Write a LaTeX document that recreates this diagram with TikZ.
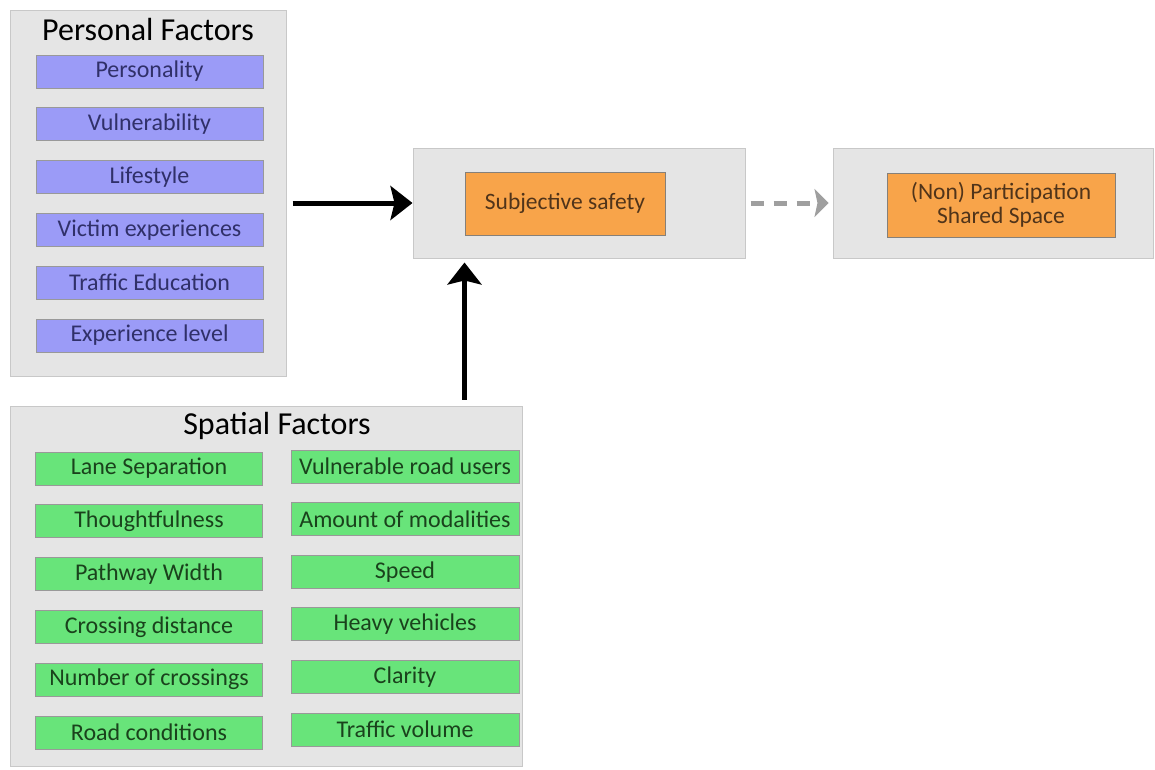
\documentclass[tikz,border=0pt]{standalone}
\usepackage{fontspec}
\setmainfont{Carlito}
\usetikzlibrary{arrows.meta, positioning}
\definecolor{panelgray}{RGB}{229, 229, 229}
\definecolor{panelline}{RGB}{200, 200, 200}
\definecolor{factorblue}{RGB}{155, 155, 247}
\definecolor{factorbluetext}{RGB}{48, 48, 105}
\definecolor{factorgreen}{RGB}{104, 228, 122}
\definecolor{factorgreentext}{RGB}{26, 66, 28}
\definecolor{safetyorange}{RGB}{248, 164, 74}
\definecolor{safetytext}{RGB}{80, 52, 26}

\tikzset{
  panel/.style={draw=panelline, fill=panelgray, line width=1pt, inner sep=0pt},
  factorbox/.style={draw=gray!80, line width=1pt, minimum width=227pt, minimum height=33pt,
    inner sep=0pt, font=\fontsize{24}{26}\selectfont},
  bluebox/.style={factorbox, fill=factorblue, text=factorbluetext},
  greenbox/.style={factorbox, fill=factorgreen, text=factorgreentext},
  orangebox/.style={draw=gray!90!brown, fill=safetyorange, text=safetytext, line width=1pt,
    inner sep=0pt, align=center, font=\fontsize{23.5}{24}\selectfont},
  paneltitle/.style={font=\fontsize{32}{34}\selectfont, text=black},
  mainarrow/.style={line width=5pt, -{Stealth[length=22pt, width=34pt, inset=4pt]}},
  dasharrow/.style={line width=5pt, gray!75, dash pattern=on 13pt off 10pt,
    -{Stealth[length=14pt, width=28pt, inset=3pt]}}
}

\begin{document}
\begin{tikzpicture}[x=1pt, y=-1pt]
  \useasboundingbox (0,0) rectangle (1155,769);

  % panels
  \node[panel, minimum width=276pt, minimum height=366pt] (pfac) at (148,193) {};
  \node[panel, minimum width=332pt, minimum height=110pt] (safe) at (579,203) {};
  \node[panel, minimum width=320pt, minimum height=110pt] (part) at (993,203) {};
  \node[panel, minimum width=512pt, minimum height=360pt] (sfac) at (266,586) {};

  % personal factors
  \node[paneltitle] (ptitle) at (148,30) {Personal Factors};
  \foreach \name/\txt [count=\i from 0] in {pers/Personality, vuln/Vulnerability,
      life/Lifestyle, vict/Victim experiences, educ/Traffic Education, expl/Experience level}
    \node[bluebox] (\name) at (149.5,71.5+52.8*\i) {\txt};

  % spatial factors
  \node[paneltitle] (stitle) at (277,426) {Spatial Factors};
  \foreach \name/\txt [count=\i from 0] in {lane/Lane Separation, thou/Thoughtfulness,
      path/Pathway Width, cdis/Crossing distance, ncro/Number of crossings, road/Road conditions}
    \node[greenbox] (\name) at (149,468.5+52.8*\i) {\txt};
  \foreach \name/\txt [count=\i from 0] in {vulu/Vulnerable road users, moda/Amount of modalities,
      sped/Speed, heav/Heavy vehicles, clar/Clarity, tvol/Traffic volume}
    \node[greenbox, minimum width=228pt] (\name) at (405,466.5+52.6*\i) {\txt};

  % outcomes
  \node[orangebox, minimum width=200pt, minimum height=63pt] (subj) at (565,203.5) {Subjective safety};
  \node[orangebox, minimum width=228pt, minimum height=64pt] (nonp) at (1001,205) {(Non) Participation\\Shared Space};

  % connectors
  \draw[mainarrow, shorten <=6pt] (pfac.east |- safe.west) -- (safe.west);
  \draw[mainarrow, shorten <=6pt, shorten >=4pt] (sfac.north -| subj.west) -- (safe.south -| subj.west);
  \draw[dasharrow, shorten <=5pt, shorten >=4pt] (safe.east) -- (part.west);
\end{tikzpicture}
\end{document}
